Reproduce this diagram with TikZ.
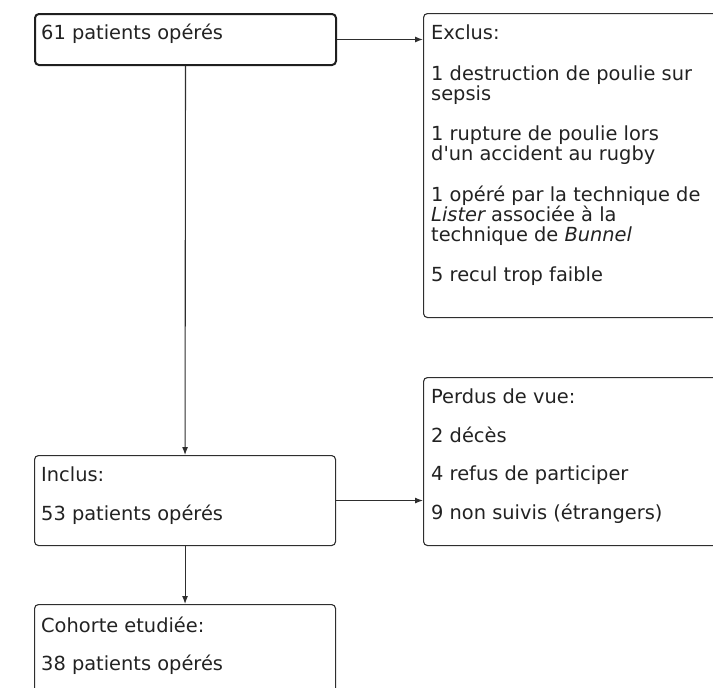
\documentclass[tikz,border=0pt]{standalone}
\usepackage{fontspec}
\newfontfamily\dvfont{DejaVu Sans}
\usetikzlibrary{arrows.meta}
\definecolor{boxgray}{HTML}{2E2E2E}
\definecolor{txtgray}{HTML}{222222}
\begin{document}
\begin{tikzpicture}[x=1pt,y=-1pt,
  box/.style={draw=boxgray, line width=1.1pt, rounded corners=4pt, inner sep=0pt, anchor=north west},
  thickbox/.style={box, draw=black!88, line width=2pt},
  txt/.style={anchor=base west, inner sep=0pt, text=txtgray, font=\dvfont\fontsize{19.4}{20}\selectfont},
  conn/.style={draw=boxgray, line width=1.1pt, -{Latex[length=8pt,width=6pt]}}]
\useasboundingbox (0,0) rectangle (713,688);
\clip (0,0) rectangle (713,688);
% boxes
\node[thickbox, minimum width=301pt, minimum height=51pt] (b1) at (34,13) {};
\node[box, minimum width=317pt, minimum height=304pt] (exclus) at (423,13) {};
\node[box, minimum width=301pt, minimum height=90pt] (inclus) at (34,455) {};
\node[box, minimum width=317pt, minimum height=168pt] (perdus) at (423,377) {};
\node[box, minimum width=301pt, minimum height=110pt] (cohorte) at (34,604) {};
% texts
\node[txt] (t1) at (41,39.5) {61 patients opérés};
\node[txt] (e0) at (431,39.5) {Exclus:};
\node[txt] (e1) at (431,80) {1 destruction de poulie sur};
\node[txt] (e2) at (431,100) {sepsis};
\node[txt] (e3) at (431,140.5) {1 rupture de poulie lors};
\node[txt] (e4) at (431,160.5) {d'un accident au rugby};
\node[txt] (e5) at (431,201) {1 opéré par la technique de};
\node[txt] (e6) at (431,221) {\itshape Lister\upshape\ associée à la};
\node[txt] (e7) at (431,241) {technique de \itshape Bunnel};
\node[txt] (e8) at (431,281.5) {5 recul trop faible};
\node[txt] (i0) at (41,481.5) {Inclus:};
\node[txt] (i1) at (41,520) {53 patients opérés};
\node[txt] (p0) at (431,403) {Perdus de vue:};
\node[txt] (p1) at (431,442) {2 décès};
\node[txt] (p2) at (431,480.5) {4 refus de participer};
\node[txt] (p3) at (431,519) {9 non suivis (étrangers)};
\node[txt] (c0) at (41,632) {Cohorte etudiée:};
\node[txt] (c1) at (41,670.5) {38 patients opérés};
% connectors
\draw[conn] (b1.east) -- (b1.east -| exclus.west);
\draw[conn] (b1.south) -- (inclus.north);
\draw[conn] (inclus.east) -- (inclus.east -| perdus.west);
\draw[conn] (inclus.south) -- (cohorte.north);
\end{tikzpicture}
\end{document}
